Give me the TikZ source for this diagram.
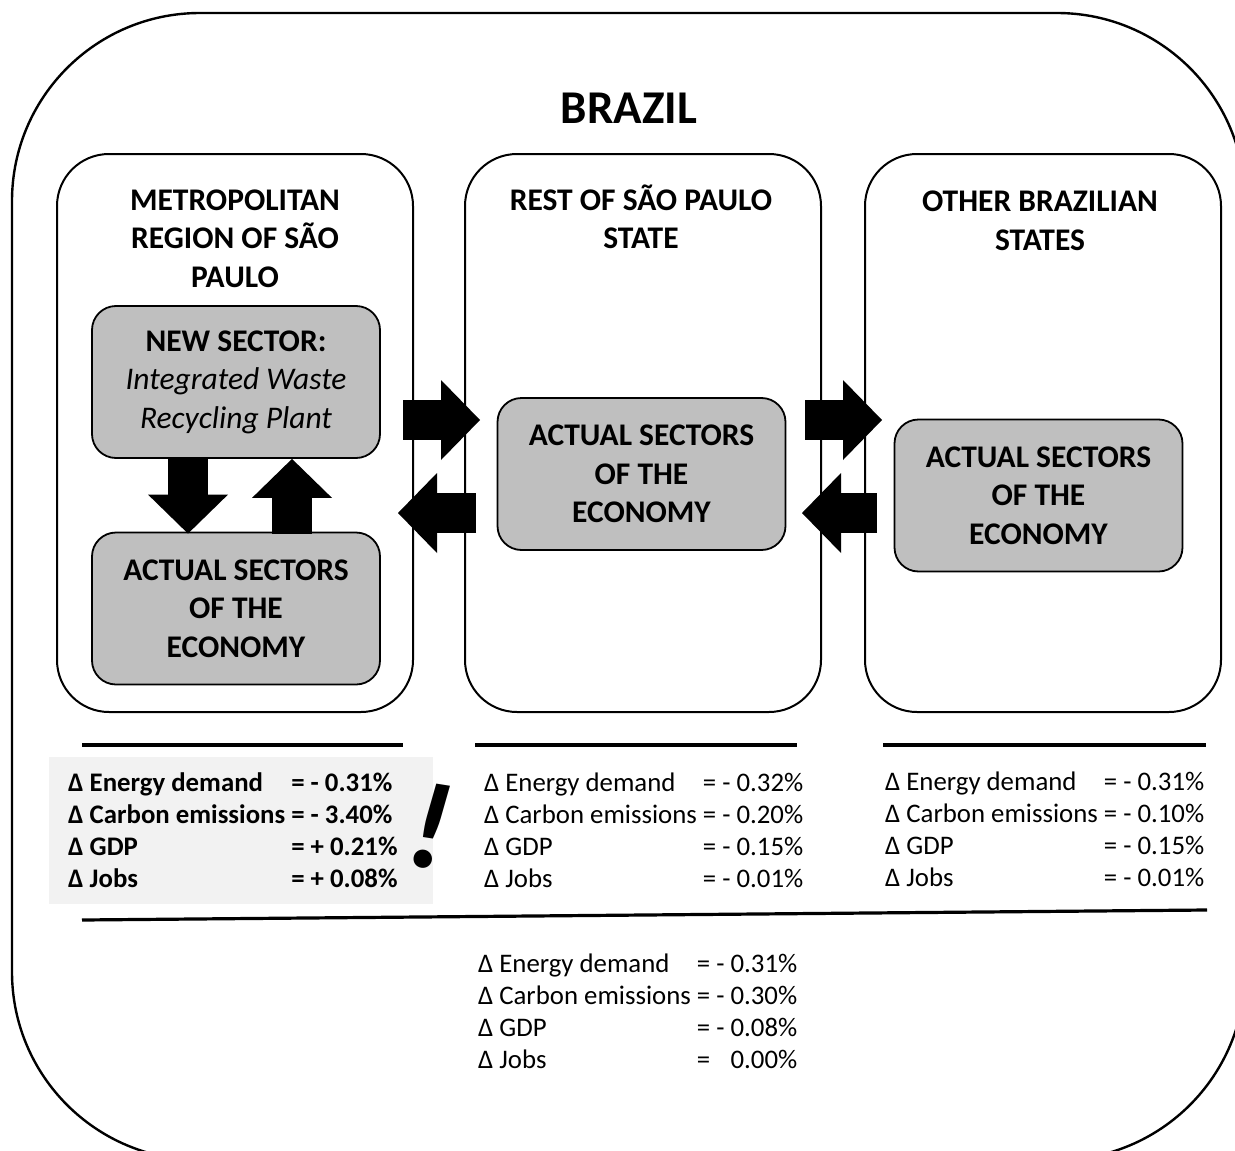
\documentclass[tikz,border=0pt]{standalone}
\usepackage{fontspec}
\setmainfont{Carlito}
\usetikzlibrary{arrows.meta,positioning,calc}
\definecolor{sectorgray}{RGB}{191,191,191}
\definecolor{notegray}{RGB}{242,242,242}

\begin{document}
\begin{tikzpicture}[
    x=1pt, y=-1pt,
    region/.style={rectangle, draw=black, line width=2pt, rounded corners=52pt,
                   minimum width=356pt, minimum height=558pt, inner sep=0pt},
    sector/.style={rectangle, draw=black, line width=1.8pt, fill=sectorgray,
                   rounded corners=24pt, minimum width=288pt, minimum height=152pt,
                   align=center, font={\bfseries\fontsize{31.5}{38.5}\selectfont}},
    regiontitle/.style={align=center, inner sep=0pt,
                   font={\bfseries\fontsize{31.5}{38.5}\selectfont}},
    stats/.style={anchor=west, inner sep=0pt, font={\fontsize{26.8}{32}\selectfont}},
    blockarrow/.style={line width=40pt,
                   -{Triangle[length=39pt, width=80pt, line width=0pt]}},
    sepline/.style={line width=3.2pt}
  ]
  \useasboundingbox (0,0) rectangle (1235,1151);
  \clip (0,0) rectangle (1235,1151);

  %% Country frame
  \draw[line width=2.4pt, rounded corners=188pt] (12,13) rectangle (1245,1160);
  \node[font={\bfseries\fontsize{47}{56}\selectfont}] (brazil) at (629,108) {BRAZIL};

  %% Regions
  \node[region] (metroPanel) at (235,433) {};
  \node[region, right=50pt of metroPanel] (restPanel) {};
  \node[region, right=42pt of restPanel] (otherPanel) {};

  \node[regiontitle] (metroTitle) at (235,238.5) {METROPOLITAN\\REGION OF SÃO\\PAULO};
  \node[regiontitle] (restTitle) at (641,217) {REST OF SÃO PAULO\\STATE};
  \node[regiontitle] (otherTitle) at (1040,221) {OTHER BRAZILIAN\\STATES};

  %% Sectors
  \node[sector] (newSector) at (236,382)
        {NEW SECTOR:\\\mdseries\itshape Integrated Waste\\\mdseries\itshape Recycling Plant};
  \node[sector] (metroActual) at (236,608.5) {ACTUAL SECTORS\\OF THE\\ECONOMY};
  \node[sector] (restActual) at (641.5,474) {ACTUAL SECTORS\\OF THE\\ECONOMY};
  \node[sector] (otherActual) at (1038.5,495.5) {ACTUAL SECTORS\\OF THE\\ECONOMY};

  %% Flows inside the metropolitan region
  \draw[blockarrow] ([xshift=-48pt]newSector.south) -- ([xshift=-48pt,yshift=-2pt]metroActual.north);
  \draw[blockarrow] ([xshift=56pt,yshift=-2pt]metroActual.north) -- ([xshift=56pt]newSector.south);

  %% Flows between the regions
  \draw[blockarrow] ([xshift=-11pt,yshift=13pt]metroPanel.east) -- ([xshift=16pt,yshift=13pt]restPanel.west);
  \draw[blockarrow] ([xshift=12pt,yshift=-80pt]restPanel.west) -- ([xshift=-16pt,yshift=-80pt]metroPanel.east);
  \draw[blockarrow] ([xshift=-17pt,yshift=13pt]restPanel.east) -- ([xshift=18pt,yshift=13pt]otherPanel.west);
  \draw[blockarrow] ([xshift=13pt,yshift=-80pt]otherPanel.west) -- ([xshift=-20pt,yshift=-80pt]restPanel.east);

  %% Results
  \fill[notegray] (49,757) rectangle (433,904);
  \draw[sepline] (82,745) -- (403,745);
  \draw[sepline] (475,745) -- (797,745);
  \draw[sepline] (883,745) -- (1206,745);
  \draw[sepline] (82,920) -- (1207,910);

  \node[stats, font={\bfseries\fontsize{26.8}{32}\selectfont}] (metroStats) at (68,833)
        {\begin{tabular}{@{}l@{ }l@{}}
         Δ Energy demand & = - 0.31\% \\
         Δ Carbon emissions & = - 3.40\% \\
         Δ GDP & = + 0.21\% \\
         Δ Jobs & = + 0.08\%
         \end{tabular}};
  \node[font={\bfseries\itshape\fontsize{124}{124}\selectfont}, rotate=-9] (alert) at (430,826) {!};

  \node[stats] (restStats) at (484,833)
        {\begin{tabular}{@{}l@{ }l@{}}
         Δ Energy demand & = - 0.32\% \\
         Δ Carbon emissions & = - 0.20\% \\
         Δ GDP & = - 0.15\% \\
         Δ Jobs & = - 0.01\%
         \end{tabular}};

  \node[stats] (otherStats) at (885,832)
        {\begin{tabular}{@{}l@{ }l@{}}
         Δ Energy demand & = - 0.31\% \\
         Δ Carbon emissions & = - 0.10\% \\
         Δ GDP & = - 0.15\% \\
         Δ Jobs & = - 0.01\%
         \end{tabular}};

  \node[stats] (brazilStats) at (478,1014)
        {\begin{tabular}{@{}l@{ }l@{}}
         Δ Energy demand & = - 0.31\% \\
         Δ Carbon emissions & = - 0.30\% \\
         Δ GDP & = - 0.08\% \\
         Δ Jobs & = \phantom{-} 0.00\%
         \end{tabular}};

\end{tikzpicture}
\end{document}
